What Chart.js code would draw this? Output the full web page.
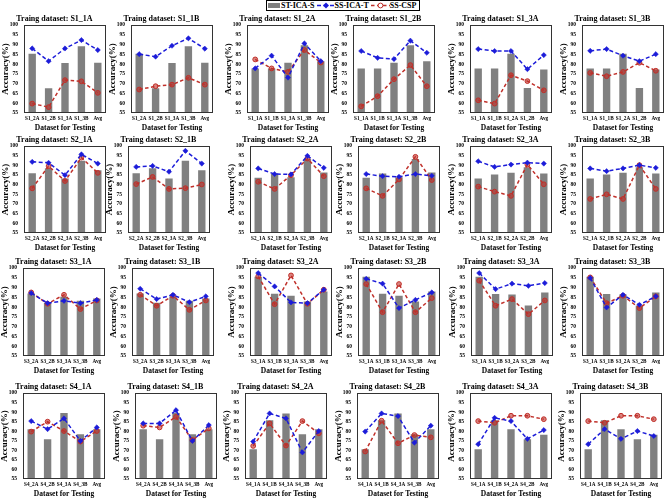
<!DOCTYPE html>
<html><head><meta charset="utf-8">
<script src="https://cdn.jsdelivr.net/npm/chart.js"></script>
<style>
html,body{margin:0;padding:0;background:#fff;width:671px;height:502px;overflow:hidden;position:relative;font-family:'Liberation Serif','Times New Roman',serif}
canvas{position:absolute}
#legend{position:absolute;left:266px;top:0;height:11px;box-sizing:border-box;border:1px solid #000;display:flex;align-items:center;padding:0 1px 0 1px;font:bold 8px 'Liberation Serif',serif;white-space:nowrap;line-height:9px;color:#000;background:#fff}
#legend .sw{display:inline-block;width:12px;height:5px;background:#808080;margin-right:1px}
#legend svg{display:block}
#legend .lt{margin-right:2px}
</style></head><body>
<div id="legend"><span class="sw"></span><span class="lt">ST-ICA-S</span><svg width="18" height="9"><line x1="0" y1="4.5" x2="18" y2="4.5" stroke="#1c1cd9" stroke-width="1.5" stroke-dasharray="4 2.5"/><polygon points="9,1.5 12,4.5 9,7.5 6,4.5" fill="#1c1cd9"/></svg><span class="lt">SS-ICA-T</span><svg width="19" height="9"><line x1="0" y1="4.5" x2="19" y2="4.5" stroke="#c0302a" stroke-width="1.5" stroke-dasharray="3.5 2.5"/><circle cx="9.5" cy="4.5" r="2.4" fill="#fff" stroke="#c0302a" stroke-width="1"/></svg><span class="lt">SS-CSP</span></div>
<script>
// ---------- data ----------
const trainSets = ['S1_1A','S1_1B','S1_2A','S1_2B','S1_3A','S1_3B',
                   'S2_1A','S2_1B','S2_2A','S2_2B','S2_3A','S2_3B',
                   'S3_1A','S3_1B','S3_2A','S3_2B','S3_3A','S3_3B',
                   'S4_1A','S4_1B','S4_2A','S4_2B','S4_3A','S4_3B'];
const testSets = [
  ['S1_2A','S1_2B','S1_3A','S1_3B','Avg'],['S1_2A','S1_2B','S1_3A','S1_3B','Avg'],
  ['S1_1A','S1_1B','S1_3A','S1_3B','Avg'],['S1_1A','S1_1B','S1_3A','S1_3B','Avg'],
  ['S1_1A','S1_1B','S1_2A','S1_2B','Avg'],['S1_1A','S1_1B','S1_2A','S1_2B','Avg'],
  ['S2_2A','S2_2B','S2_3A','S2_3B','Avg'],['S2_2A','S2_2B','S2_3A','S2_3B','Avg'],
  ['S2_1A','S2_1B','S2_3A','S2_3B','Avg'],['S2_1A','S2_1B','S2_3A','S2_3B','Avg'],
  ['S2_1A','S2_1B','S2_2A','S2_2B','Avg'],['S2_1A','S2_1B','S2_2A','S2_2B','Avg'],
  ['S3_2A','S3_2B','S3_3A','S3_3B','Avg'],['S3_2A','S3_2B','S3_3A','S3_3B','Avg'],
  ['S3_1A','S3_1B','S3_3A','S3_3B','Avg'],['S3_1A','S3_1B','S3_3A','S3_3B','Avg'],
  ['S3_1A','S3_1B','S3_2A','S3_2B','Avg'],['S3_1A','S3_1B','S3_2A','S3_2B','Avg'],
  ['S4_2A','S4_2B','S4_3A','S4_3B','Avg'],['S4_2A','S4_2B','S4_3A','S4_3B','Avg'],
  ['S4_1A','S4_1B','S4_3A','S4_3B','Avg'],['S4_1A','S4_1B','S4_3A','S4_3B','Avg'],
  ['S4_1A','S4_1B','S4_2A','S4_2B','Avg'],['S4_1A','S4_1B','S4_2A','S4_2B','Avg']
];
const stIcaS = [
  [85.3,67.6,80.6,89.1,80.7],[85.3,67.6,80.6,89.1,80.7],
  [77.8,77.8,80.7,89.6,81.5],[77.8,77.8,80.7,89.6,81.5],
  [77.8,77.8,85.3,67.8,77.2],[77.8,77.8,85.3,67.8,77.2],
  [85.9,88.5,83.2,92.4,87.4],[85.9,88.5,83.2,92.4,87.4],
  [83.6,85.8,83.9,93.3,86.3],[83.6,85.8,83.9,93.3,86.3],
  [83.2,85.3,86.1,89.0,85.8],[83.2,85.3,86.1,89.0,85.8],
  [87.0,82.2,85.3,83.2,84.4],[87.0,82.2,85.3,83.2,84.4],
  [95.5,86.8,85.8,82.9,88.0],[95.5,86.8,85.8,82.9,88.0],
  [95.5,86.7,86.5,80.8,87.5],[95.5,86.7,86.5,80.8,87.5],
  [81.0,75.8,89.6,78.4,81.0],[81.0,75.8,89.6,78.4,81.0],
  [70.6,85.8,89.3,78.4,81.0],[70.6,85.8,89.3,78.4,81.0],
  [70.6,85.8,81.0,75.8,78.2],[70.6,85.8,81.0,75.8,78.2]
];
const ssIcaT = [
  [88.0,81.5,88.0,92.3,87.2],[85.1,83.8,89.4,93.2,87.9],
  [77.8,84.3,73.1,90.6,81.5],[86.7,83.2,82.6,92.0,85.8],
  [87.7,86.7,86.7,77.4,84.6],[86.8,87.7,84.3,81.5,85.1],
  [91.8,91.3,84.9,95.7,90.9],[89.2,89.7,86.7,97.5,90.9],
  [88.4,85.5,85.3,94.9,88.7],[85.5,84.4,84.1,85.5,84.6],
  [92.1,89.2,90.4,91.4,90.9],[88.4,87.0,88.4,90.1,88.7],
  [87.2,82.0,83.2,82.0,83.7],[89.4,84.1,86.3,82.5,85.5],
  [97.4,90.6,82.4,82.0,88.9],[94.5,92.0,79.5,83.7,87.5],
  [97.4,89.2,92.0,90.9,92.3],[94.9,79.8,86.3,81.2,85.5],
  [85.3,81.1,86.7,74.9,82.0],[84.1,84.1,91.0,74.9,83.2],
  [74.6,89.3,86.7,68.9,80.1],[79.8,89.3,87.9,74.0,82.9],
  [73.2,87.0,85.3,76.0,80.6],[73.2,81.1,76.0,80.1,77.5]
];
const ssCsp = [
  [59.8,58.0,71.8,71.2,65.3],[67.0,68.7,69.5,73.0,69.5],
  [82.4,77.8,76.0,87.2,80.8],[58.4,63.6,72.3,79.5,68.7],
  [61.5,59.8,74.3,71.3,66.6],[75.5,73.8,76.0,80.7,76.6],
  [78.1,89.6,81.9,94.0,86.1],[80.3,84.0,77.8,78.2,80.1],
  [81.5,77.8,84.9,93.5,84.4],[78.1,74.2,82.7,94.4,82.4],
  [79.0,76.4,74.2,90.4,80.2],[72.6,75.0,72.6,90.1,77.8],
  [87.5,81.7,86.3,79.0,83.4],[86.3,80.7,85.8,78.6,83.4],
  [95.7,81.5,96.2,81.7,88.9],[91.8,77.4,91.8,77.4,84.6],
  [93.5,80.7,84.1,76.4,83.4],[95.2,82.0,85.8,79.5,85.5],
  [79.8,85.0,80.1,74.6,80.1],[82.9,82.0,87.5,75.4,81.5],
  [72.3,84.1,72.5,85.3,78.9],[69.4,85.5,73.7,78.0,76.8],
  [85.3,84.4,88.1,88.1,86.3],[85.3,84.4,88.1,88.1,86.3]
];
const yTicks = [55,60,65,70,75,80,85,90,95,100];

// ---------- layout ----------
const boxLeft = [[24,131,247,353,470,582],[24,128,250,358,470,582],[23,132,250,358,471,582],[23,135,245,357,470,580]];
const boxTop = [25,146,268,393];
const boxBottom = [113,233,356,479];
const BOX_W = 85, Y_AXIS_W = 24, TITLE_H = 17, X_AXIS_H = 20, RIGHT_PAD = 2;

const BLUE = '#1c1cd9', RED = '#c0302a', GREY = '#808080';
const SERIF = "'Liberation Serif','Times New Roman',serif";

const framePlugin = {
  id: 'frame',
  afterDatasetsDraw(chart) {
    const a = chart.chartArea, c = chart.ctx;
    c.save();
    c.strokeStyle = '#333'; c.lineWidth = 1; c.setLineDash([]);
    c.strokeRect(Math.round(a.left) + 0.5, Math.round(a.top) + 0.5,
                 Math.round(a.right - a.left) - 1, Math.round(a.bottom - a.top) - 1);
    c.restore();
  }
};

for (let i = 0; i < trainSets.length; i++) {
  const r = Math.floor(i / 6), col = i % 6;
  const cv = document.createElement('canvas');
  const w = Y_AXIS_W + BOX_W + RIGHT_PAD;
  const h = TITLE_H + (boxBottom[r] - boxTop[r]) + X_AXIS_H;
  cv.width = w; cv.height = h;
  cv.style.width = w + 'px'; cv.style.height = h + 'px';
  cv.style.left = (boxLeft[r][col] - Y_AXIS_W) + 'px';
  cv.style.top = (boxTop[r] - TITLE_H) + 'px';
  document.body.appendChild(cv);

  new Chart(cv, {
    data: {
      labels: testSets[i],
      datasets: [
        { type: 'line', label: 'SS-ICA-T', data: ssIcaT[i], borderColor: BLUE, backgroundColor: BLUE,
          borderWidth: 1.5, borderDash: [4, 2.5], tension: 0, pointStyle: 'rectRot', pointRadius: 2.6,
          pointBackgroundColor: BLUE, pointBorderColor: BLUE, pointBorderWidth: 0.5, order: 1 },
        { type: 'line', label: 'SS-CSP', data: ssCsp[i], borderColor: RED, backgroundColor: RED,
          borderWidth: 1.5, borderDash: [3.5, 2.5], tension: 0, pointStyle: 'circle', pointRadius: 2.4,
          pointBackgroundColor: 'rgba(192,48,42,0.6)', pointBorderColor: RED, pointBorderWidth: 1, order: 2 },
        { type: 'bar', label: 'ST-ICA-S', data: stIcaS[i], backgroundColor: GREY,
          barPercentage: 0.45, categoryPercentage: 1, order: 3 }
      ]
    },
    options: {
      responsive: false, animation: false, devicePixelRatio: 1,
      layout: { padding: { left: 0, right: RIGHT_PAD, top: 0, bottom: 0 } },
      plugins: {
        legend: { display: false },
        tooltip: { enabled: false },
        title: { display: true, text: 'Traing dataset: ' + trainSets[i], color: '#000',
          font: { family: SERIF, weight: 'bold', size: 8, lineHeight: 1.2 },
          padding: { top: 6.2, bottom: 1.2 } }
      },
      scales: {
        x: {
          type: 'category', offset: true,
          grid: { display: false, drawTicks: false }, border: { display: false },
          ticks: { color: '#000', font: { family: SERIF, weight: 'bold', size: 5.2 }, padding: 3,
                   autoSkip: false, maxRotation: 0, minRotation: 0 },
          title: { display: true, text: 'Dataset for Testing', color: '#000',
                   font: { family: SERIF, weight: 'bold', size: 7.5, lineHeight: 1.2 }, padding: { top: 0, bottom: 0.5 } },
          afterFit: s => { s.height = X_AXIS_H; }
        },
        y: {
          min: 55, max: 100,
          grid: { display: false, drawTicks: false }, border: { display: false },
          afterBuildTicks: s => { s.ticks = yTicks.map(v => ({ value: v })); },
          ticks: { color: '#000', font: { family: SERIF, weight: 'bold', size: 5.5 }, padding: 6, autoSkip: false },
          title: { display: true, text: 'Accuracy(%)', color: '#000',
                   font: { family: SERIF, weight: 'bold', size: 9, lineHeight: 1.2 }, padding: { top: 0, bottom: 0 } },
          afterFit: s => { s.width = Y_AXIS_W; }
        }
      }
    },
    plugins: [framePlugin]
  });
}
</script>
</body></html>
